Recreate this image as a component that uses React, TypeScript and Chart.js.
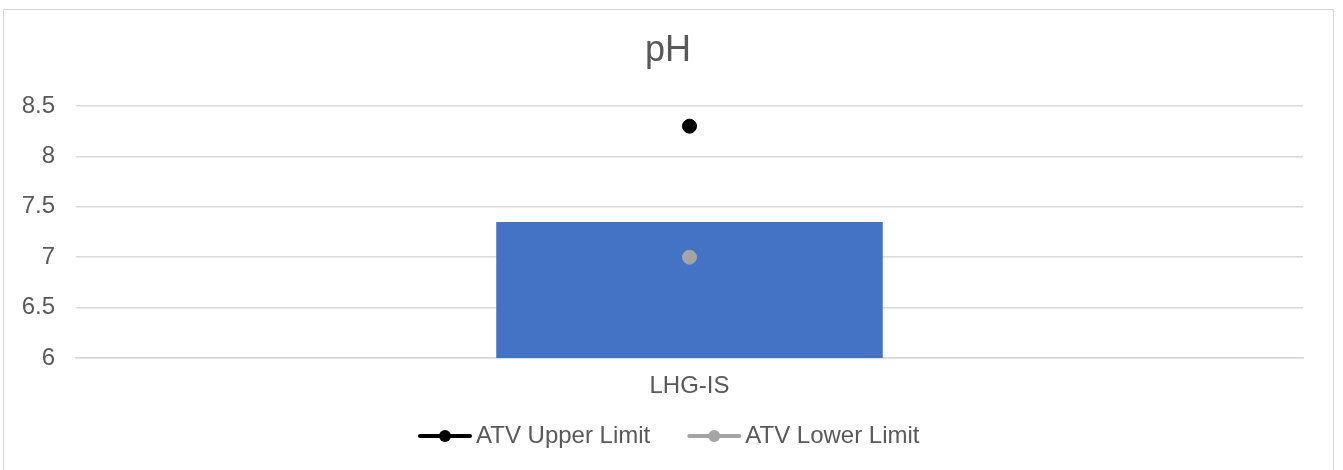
import React, { useEffect, useRef } from "react";
import { Chart, registerables } from "chart.js";

Chart.register(...registerables);

// Chart content
const TITLE = "pH";
const CATEGORIES = ["LHG-IS"];
const PH_VALUES = [7.35];
const UPPER_LIMIT = [8.3];
const LOWER_LIMIT = [7.0];
const Y_TICKS = [6, 6.5, 7, 7.5, 8, 8.5];
const SERIES_NAMES = ["pH", "ATV Upper Limit", "ATV Lower Limit"];

// Styling
const FONT = "'Liberation Sans', Arial, Helvetica, sans-serif";
const TEXT_COLOR = "#595959";
const GRID_COLOR = "#d9d9d9";
const BAR_COLOR = "#4472c4";
const UPPER_COLOR = "#000000";
const LOWER_COLOR = "#a5a5a5";
const FONT_SIZE = 24;

// Legend for the limit series: a short line with a dot, followed by the name
const lineLegend = {
  id: "lineLegend",
  afterDraw(chart: any) {
    const ctx: CanvasRenderingContext2D = chart.ctx;
    const items = chart.data.datasets.filter((d: any) => d.type === "line");
    const markerLen = 54;
    const gap = 4;
    const spacing = 37;
    ctx.save();
    ctx.font = `${FONT_SIZE}px ${FONT}`;
    let x = 414;
    const y = chart.height - 42;
    items.forEach((d: any) => {
      const color = d.backgroundColor;
      ctx.strokeStyle = color;
      ctx.lineWidth = 4;
      ctx.lineCap = "round";
      ctx.beginPath();
      ctx.moveTo(x + 2, y);
      ctx.lineTo(x + markerLen - 2, y);
      ctx.stroke();
      ctx.fillStyle = color;
      ctx.beginPath();
      ctx.arc(x + markerLen / 2, y, 6, 0, Math.PI * 2);
      ctx.fill();
      ctx.fillStyle = TEXT_COLOR;
      ctx.textBaseline = "middle";
      ctx.textAlign = "left";
      ctx.fillText(d.label, x + markerLen + gap, y);
      x += markerLen + gap + ctx.measureText(d.label).width + spacing;
    });
    ctx.restore();
  },
};

function PhChart() {
  const canvasRef = useRef<HTMLCanvasElement | null>(null);

  useEffect(() => {
    if (!canvasRef.current) return;
    const chart = new Chart(canvasRef.current, {
      type: "bar",
      data: {
        labels: CATEGORIES,
        datasets: [
          {
            type: "bar",
            label: SERIES_NAMES[0],
            data: PH_VALUES,
            backgroundColor: BAR_COLOR,
            borderWidth: 0,
            categoryPercentage: 1,
            barPercentage: 0.315,
            order: 2,
          },
          {
            type: "line",
            label: SERIES_NAMES[1],
            data: UPPER_LIMIT,
            showLine: false,
            backgroundColor: UPPER_COLOR,
            borderColor: UPPER_COLOR,
            pointRadius: 7,
            pointBorderWidth: 1,
            order: 0,
          },
          {
            type: "line",
            label: SERIES_NAMES[2],
            data: LOWER_LIMIT,
            showLine: false,
            backgroundColor: LOWER_COLOR,
            borderColor: LOWER_COLOR,
            pointRadius: 7,
            pointBorderWidth: 1,
            order: 1,
          },
        ],
      } as any,
      plugins: [lineLegend],
      options: {
        animation: false,
        responsive: true,
        maintainAspectRatio: false,
        layout: { padding: { left: 19, right: 20, top: 0, bottom: 63.2 } },
        plugins: {
          legend: { display: false },
          tooltip: { enabled: false },
          title: {
            display: true,
            text: TITLE,
            color: TEXT_COLOR,
            font: { family: FONT, size: 36, weight: "normal" },
            padding: { top: 19.4, bottom: 33.4 },
          },
        },
        scales: {
          x: {
            offset: true,
            grid: { display: false, drawTicks: false },
            border: { display: true, color: GRID_COLOR, width: 1.5 },
            ticks: {
              color: TEXT_COLOR,
              font: { family: FONT, size: FONT_SIZE },
              padding: 14,
            },
          },
          y: {
            min: Y_TICKS[0],
            max: Y_TICKS[Y_TICKS.length - 1],
            afterBuildTicks(scale: any) {
              scale.ticks = Y_TICKS.map((v) => ({ value: v }));
            },
            afterFit(scale: any) {
              scale.width = 53;
            },
            grid: { color: GRID_COLOR, lineWidth: 1.5, drawTicks: false },
            border: { display: false },
            ticks: {
              color: TEXT_COLOR,
              font: { family: FONT, size: FONT_SIZE },
              padding: 21,
              callback: (v: any) => String(v),
            },
          },
          // empty right-hand margin beside the plot area
          yRight: {
            position: "right",
            display: true,
            afterFit(scale: any) {
              scale.width = 10;
            },
            grid: { display: false, drawTicks: false },
            border: { display: false },
            ticks: { display: false },
          },
        },
      } as any,
    });
    return () => chart.destroy();
  }, []);

  return (
    <div
      style={{
        position: "absolute",
        left: 3,
        top: 9,
        width: 1331,
        height: 470,
        boxSizing: "border-box",
        border: "1px solid #d9d9d9",
        background: "#ffffff",
      }}
    >
      <canvas ref={canvasRef} />
    </div>
  );
}

export default function App() {
  return <PhChart />;
}
